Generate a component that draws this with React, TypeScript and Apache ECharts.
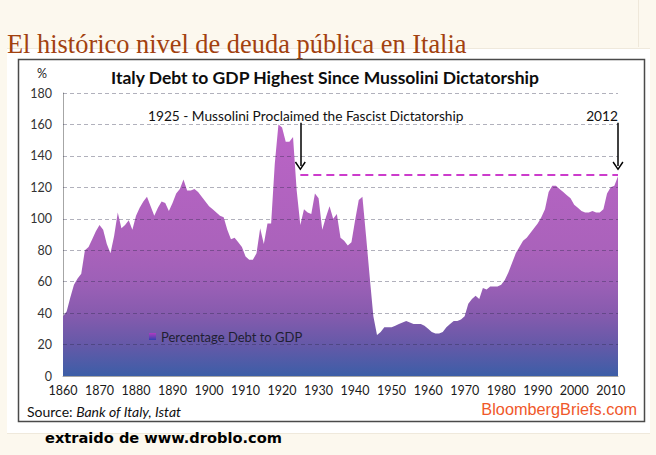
import React, { useEffect, useRef } from "react";
import * as echarts from "echarts";

// Italy public debt, % of GDP, one value per year from 1860 to 2012
const startYear = 1860;
const debtToGdp = [
  38, 41, 50, 58, 62, 65, 80, 82, 87, 92, // 1860-1869
  96, 93, 84, 78, 89, 104, 94, 96, 99, 93, // 1870-1879
  102, 107, 111, 114, 108, 102, 107, 111, 110, 105, // 1880-1889
  110, 116, 119, 125, 118, 118, 119, 117, 114, 111, // 1890-1899
  108, 106, 104, 102, 101, 93, 87, 88, 85, 82, // 1900-1909
  76, 74, 74, 78, 94, 84, 97, 97, 135, 160, // 1910-1919
  158, 149, 149, 152, 118, 96, 106, 104, 103, 116, // 1920-1929
  113, 93, 101, 108, 100, 103, 88, 86, 83, 85, // 1930-1939
  99, 112, 114, 89, 63, 38, 26, 28, 31, 31, // 1940-1949
  31, 32, 33, 34, 35, 34, 33, 33, 33, 32, // 1950-1959
  30, 28, 27, 27, 28, 31, 33, 35, 35, 36, // 1960-1969
  38, 46, 49, 51, 49, 56, 55, 57, 57, 57, // 1970-1979
  58, 61, 66, 72, 78, 82, 86, 88, 91, 94, // 1980-1989
  97, 101, 106, 117, 121, 121, 119, 117, 115, 113, // 1990-1999
  109, 107, 105, 104, 104, 105, 104, 104, 106, 116, // 2000-2009
  120, 121, 127, // 2010-2012
];
const years = debtToGdp.map((_, i) => startYear + i);

const seriesName = "Percentage Debt to GDP";
const yMin = 0;
const yMax = 180;
const yStep = 20;
const xStep = 10;
const gridValues = [20, 40, 60, 80, 100, 120, 140, 160, 180];
const fascistYear = 1925;
const latestYear = 2012;
const mussoliniLevel = 128;
const arrowTop = 161;
const arrowTip = 133.5;

const pageTitle = "El histórico nivel de deuda pública en Italia";
const chartTitle = "Italy Debt to GDP Highest Since Mussolini Dictatorship";
const annotationText = "1925 - Mussolini Proclaimed the Fascist Dictatorship";
const latestText = "2012";
const unitText = "%";
const sourcePrefix = "Source: ";
const sourceText = "Bank of Italy, Istat";
const brandText = "BloombergBriefs.com";
const creditText = "extraido de www.droblo.com";

const FONT = "Lato, 'Open Sans', 'Noto Sans', sans-serif";
const CHEVRON = "path://M5.5,0 L11,8 L9.8,9 L5.5,2.5 L1.2,9 L0,8 Z";

export default function App() {
  const ref = useRef<HTMLDivElement>(null);

  useEffect(() => {
    if (!ref.current) return;
    const chart = echarts.init(ref.current, undefined, { renderer: "svg" });

    const areaGradient = new echarts.graphic.LinearGradient(0, 0, 0, 1, [
      { offset: 0, color: "#bb64c6" },
      { offset: 0.5, color: "#aa62bb" },
      { offset: 0.625, color: "#9d60b7" },
      { offset: 0.75, color: "#875bae" },
      { offset: 0.875, color: "#6559a8" },
      { offset: 1, color: "#3c5ea7" },
    ]);
    const legendGradient = new echarts.graphic.LinearGradient(0, 0, 0, 1, [
      { offset: 0, color: "#b03cc0" },
      { offset: 1, color: "#3340b0" },
    ]);

    const gridLineStyle = { color: "rgba(40,40,70,0.36)", type: [4, 3], width: 1 };

    chart.setOption({
      animation: false,
      textStyle: { fontFamily: FONT },
      grid: { left: 63, right: 38, top: 93, bottom: 79, containLabel: false },
      xAxis: {
        type: "value",
        min: startYear,
        max: latestYear,
        interval: xStep,
        axisLine: { show: true, lineStyle: { color: "#a6a6a6", width: 1 } },
        axisTick: { show: false },
        splitLine: { show: false },
        axisLabel: {
          color: "#1a1a1a",
          fontSize: 12.5,
          margin: 8,
          showMaxLabel: false,
          formatter: (v: number) => (v % xStep === 0 ? String(v) : ""),
        },
      },
      yAxis: {
        type: "value",
        min: yMin,
        max: yMax,
        interval: yStep,
        axisLine: { show: true, lineStyle: { color: "#a6a6a6", width: 1 } },
        axisTick: { show: false },
        axisLabel: { color: "#333", fontSize: 12.5, margin: 11 },
        splitLine: { show: false },
      },
      legend: {
        left: 149,
        top: 330,
        padding: 0,
        itemWidth: 7,
        itemHeight: 7,
        icon: "rect",
        textStyle: { color: "#1f1f33", fontSize: 13, fontFamily: FONT },
        data: [{ name: seriesName, itemStyle: { color: legendGradient } }],
      },
      series: [
        {
          type: "line",
          name: seriesName,
          data: years.map((y, i) => [y, debtToGdp[i]]),
          symbol: "none",
          lineStyle: { width: 0 },
          itemStyle: { color: "#8a5cb2" },
          areaStyle: { color: areaGradient, opacity: 1 },
          z: 2,
          markLine: {
            silent: true,
            symbol: ["none", "none"],
            label: { show: false },
            emphasis: { disabled: true },
            data: [
              ...gridValues.map((v) => ({ yAxis: v, lineStyle: gridLineStyle })),
              [
                {
                  coord: [fascistYear, mussoliniLevel],
                  lineStyle: { color: "#cc3ccc", width: 2, type: [8, 5] },
                },
                { coord: [latestYear, mussoliniLevel] },
              ],
              [
                {
                  coord: [fascistYear, arrowTop],
                  lineStyle: { color: "#000", width: 1.5, type: "solid" },
                },
                { coord: [fascistYear, arrowTip], symbol: CHEVRON, symbolSize: [11, 9] },
              ],
              [
                {
                  coord: [latestYear, arrowTop],
                  lineStyle: { color: "#000", width: 1.5, type: "solid" },
                },
                { coord: [latestYear, arrowTip], symbol: CHEVRON, symbolSize: [11, 9] },
              ],
            ],
          },
        },
      ],
      graphic: [
        {
          type: "text",
          x: 7,
          y: 31,
          style: {
            text: pageTitle,
            font: "26.4px 'Liberation Serif', 'DejaVu Serif', serif",
            fill: "#a2410f",
            textVerticalAlign: "alphabetic",
          },
        },
        {
          type: "rect",
          shape: { x: 18.5, y: 59.5, width: 626, height: 362 },
          style: { fill: "none", stroke: "#4a4a4a", lineWidth: 1.5 },
        },
        {
          type: "text",
          x: 325,
          y: 77,
          style: {
            text: chartTitle,
            font: `bold 17.5px ${FONT}`,
            fill: "#0d0d0d",
            textAlign: "center",
            textVerticalAlign: "middle",
          },
        },
        {
          type: "text",
          x: 42,
          y: 73,
          style: {
            text: unitText,
            font: `12.5px ${FONT}`,
            fill: "#222",
            textAlign: "center",
            textVerticalAlign: "middle",
          },
        },
        {
          type: "text",
          x: 148,
          y: 115,
          style: {
            text: annotationText,
            font: `13.7px ${FONT}`,
            fill: "#111",
            textVerticalAlign: "middle",
          },
        },
        {
          type: "text",
          x: 602,
          y: 115,
          style: {
            text: latestText,
            font: `13.7px ${FONT}`,
            fill: "#111",
            textAlign: "center",
            textVerticalAlign: "middle",
          },
        },
        {
          type: "text",
          x: 27,
          y: 411,
          style: {
            text: `{a|${sourcePrefix}}{b|${sourceText}}`,
            fill: "#111",
            textVerticalAlign: "middle",
            rich: {
              a: { fontSize: 14, fontFamily: FONT, fill: "#111" },
              b: { fontSize: 14, fontFamily: FONT, fontStyle: "italic", fill: "#111" },
            },
          },
        },
        {
          type: "text",
          x: 637,
          y: 409,
          style: {
            text: brandText,
            font: "16.3px 'Liberation Sans', Arial, sans-serif",
            fill: "#f0582a",
            textAlign: "right",
            textVerticalAlign: "middle",
          },
        },
        {
          type: "text",
          x: 45,
          y: 437,
          style: {
            text: creditText,
            font: "bold 14.6px 'DejaVu Sans', sans-serif",
            fill: "#000",
            textVerticalAlign: "middle",
          },
        },
      ],
    });

    return () => chart.dispose();
  }, []);

  return (
    <div
      style={{
        position: "fixed",
        left: 0,
        top: 0,
        width: 656,
        height: 455,
        background: "#fcf8ee",
        overflow: "hidden",
      }}
    >
      <div
        style={{
          position: "absolute",
          left: 7,
          top: 48,
          width: 643,
          height: 384,
          background: "#ffffff",
          borderTop: "1px solid #efe9dc",
          borderBottom: "1px solid #efe9dc",
        }}
      />
      <div
        style={{
          position: "absolute",
          left: 638,
          top: 0,
          width: 1,
          height: 47,
          background: "#efe8da",
        }}
      />
      <div
        ref={ref}
        style={{ position: "absolute", left: 0, top: 0, width: 656, height: 455 }}
      />
    </div>
  );
}
